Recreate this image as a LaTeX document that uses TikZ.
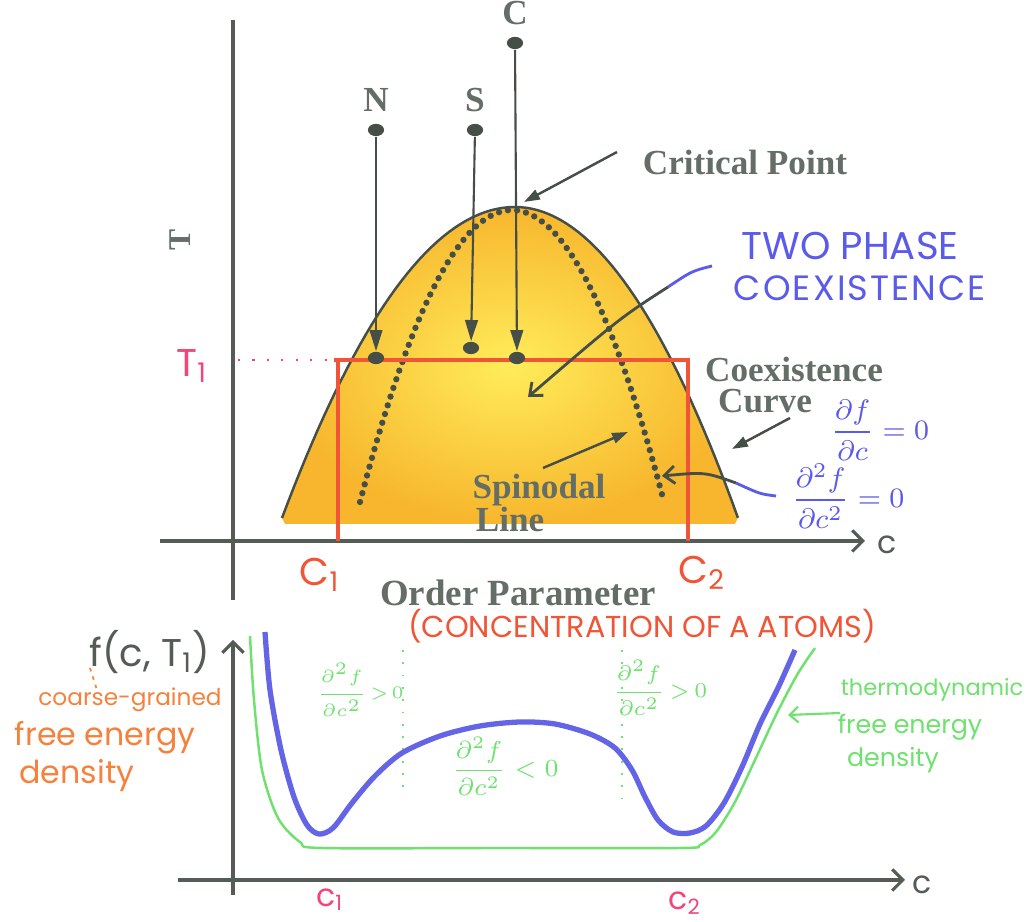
\documentclass[tikz,border=0pt]{standalone}
\usepackage{amsmath}
\usepackage{fontspec}
\setmainfont{Liberation Serif}
\newfontfamily\handfont{Poppins}
\usetikzlibrary{arrows.meta,positioning,shapes.geometric}
\definecolor{axisGray}{RGB}{85,92,86}
\definecolor{labelGray}{RGB}{100,110,102}
\definecolor{dotGray}{RGB}{70,78,72}
\definecolor{redLine}{RGB}{240,85,55}
\definecolor{pinkHand}{RGB}{240,70,120}
\definecolor{blueHand}{RGB}{90,90,235}
\definecolor{blueCurve}{RGB}{100,100,230}
\definecolor{greenHand}{RGB}{110,225,110}
\definecolor{orangeHand}{RGB}{245,130,60}
\definecolor{domeYellow}{RGB}{255,236,90}
\definecolor{domeOrange}{RGB}{247,182,45}
\newcommand\setfs[1]{\fontsize{#1}{#1}\selectfont}
\tikzset{
  axis/.style={draw=axisGray, line width=0.9pt},
  axisarrow/.style={axis, -{Straight Barb[length=3pt,width=6pt]}},
  printlbl/.style={text=labelGray, font=\setfs{10}\bfseries, inner sep=0pt},
  statedot/.style={ellipse, fill=dotGray, inner sep=0pt, minimum width=4.6pt, minimum height=3.5pt},
  quench/.style={draw=dotGray, line width=0.6pt, -{Triangle[length=6pt,width=3.6pt]}},
  pointer/.style={draw=dotGray, line width=0.7pt, -{Triangle[length=4.5pt,width=3pt]}},
  barbpointer/.style={draw=dotGray, line width=0.8pt, -{Straight Barb[length=3pt,width=5pt]}},
  spinodal/.style={draw=dotGray, line width=1.8pt, line cap=round, dash pattern=on 0pt off 2.6pt},
  tieline/.style={draw=redLine, line width=1.2pt},
  hand/.style={font=\handfont, inner sep=0pt}
}

\begin{document}
\begin{tikzpicture}[x=0.01cm,y=-0.01cm]
  \useasboundingbox (0,0) rectangle (1026,922);
  % two phase dome
  \shade[inner color=domeYellow, outer color=domeOrange]
    plot[domain=-1:0,samples=40] ({515+233*\x},{207+311*\x*\x})
    -- plot[domain=0:1,samples=40] ({515+223*\x},{207+311*\x*\x})
    -- (735,524) -- (285,524) -- cycle;
  \draw[draw=dotGray, line width=0.7pt]
    plot[domain=-1:0,samples=40] ({515+233*\x},{207+311*\x*\x})
    -- plot[domain=0:1,samples=40] ({515+223*\x},{207+311*\x*\x});
  \draw[spinodal] plot[domain=-1:1,samples=40] ({512+152*\x},{210+292*\x*\x});

  % axes of the phase diagram
  \draw[axis] (233,600) -- (233,20);
  \draw[axisarrow] (160,541) -- (865,541);
  \node[hand, text=axisGray, font=\handfont\setfs{9}] (cTop) at (887,545) {c};
  \node[printlbl, font=\setfs{9}\bfseries, rotate=90] (tAxis) at (180,240) {T};

  % T1 quench line
  \draw[draw=pinkHand, line width=0.8pt, dash pattern=on 0.6pt off 3.5pt] (238,360) -- (333,360);
  \node[hand, text=pinkHand, font=\handfont\setfs{11}] (tOne) at (192,366) {T\textsubscript{1}};
  \draw[tieline] (334,360) -- (690,360);
  \draw[tieline] (338,360) -- (338,541);
  \draw[tieline] (688,360) -- (688,541);
  \node[hand, text=redLine, font=\handfont\setfs{11}] (cOne) at (320,575) {C\textsubscript{1}};
  \node[hand, text=redLine, font=\handfont\setfs{11}] (cTwo) at (702,573) {C\textsubscript{2}};

  % quenches
  \node[statedot] (nTop) at (376,130) {};
  \node[statedot] (nEnd) at (376,358) {};
  \node[statedot] (sTop) at (475,130) {};
  \node[statedot] (sEnd) at (471,348) {};
  \node[statedot] (cTopDot) at (515,43) {};
  \node[statedot] (cEnd) at (517,358) {};
  \node[printlbl, above=3pt of nTop] (nLbl) {N};
  \node[printlbl, above=3pt of sTop] (sLbl) {S};
  \node[printlbl, above=3pt of cTopDot] (cLbl) {C};
  \draw[quench] (nTop) -- (nEnd);
  \draw[quench] (sTop) -- (sEnd);
  \draw[quench] (cTopDot) -- (cEnd);

  % labels with pointers
  \node[printlbl] (crit) at (745,162) {Critical Point};
  \coordinate (critPt) at (524,202);
  \draw[pointer] (617,152) coordinate (critTail) -- (critPt);
  \node[printlbl] (coexLbl) at (794,369) {Coexistence};
  \node[printlbl] (curveLbl) at (765,401) {Curve};
  \coordinate (coexTail) at (790,418);
  \coordinate (coexPt) at (732,449);
  \draw[pointer] (coexTail) -- (coexPt);
  \node[printlbl] (spinLbl) at (539,490) {Spinodal};
  \node[printlbl] (lineLbl) at (510,519) {Line};
  \coordinate (spinTail) at (543,468);
  \coordinate (spinPt) at (628,432);
  \draw[pointer] (spinTail) -- (spinPt);

  \node[hand, text=blueHand, font=\handfont\setfs{11}] (twoLbl) at (850,246) {TWO PHASE};
  \node[hand, text=blueHand, font=\handfont\setfs{10}\addfontfeature{LetterSpace=6}] (coexHand) at (860,288) {COEXISTENCE};
  \coordinate (twoTail) at (712,266);
  \coordinate (twoMid) at (668,287);
  \coordinate (twoTip) at (528,397);
  \draw[draw=blueHand, line width=0.8pt] (twoTail) .. controls (692,271) .. (twoMid);
  \draw[barbpointer] (twoMid) .. controls (620,318) .. (twoTip);

  \node[hand, text=blueHand, font=\setfs{8}] (dfLbl) at (880,430) {$\dfrac{\partial f}{\partial c}=0$};
  \node[hand, text=blueHand, font=\setfs{8}] (ddfLbl) at (848,496) {$\dfrac{\partial^2 f}{\partial c^2}=0$};
  \coordinate (ddfTail) at (776,496);
  \coordinate (ddfMid) at (736,483);
  \coordinate (ddfTip) at (662,476);
  \draw[draw=blueHand, line width=0.8pt] (ddfTail) .. controls (760,494) .. (ddfMid);
  \draw[barbpointer] (ddfMid) .. controls (705,472) .. (ddfTip);

  \node[printlbl, font=\setfs{10.5}\bfseries] (orderLbl) at (518,593) {Order Parameter};
  \node[hand, text=redLine, font=\handfont\setfs{8.6}] (concLbl) at (642,626) {(CONCENTRATION OF A ATOMS)};

  % free energy plot
  \draw[axisarrow] (233,895) -- (233,640);
  \draw[axisarrow] (178,880) -- (905,880);
  \node[hand, text=axisGray, font=\handfont\setfs{9}] (cBottom) at (922,885) {c};
  \node[hand, text=axisGray, font=\handfont\setfs{11}] (fLbl) at (150,652) {f(c, T\textsubscript{1})};
  \node[hand, text=orangeHand, font=\handfont\setfs{6.6}] (coarseLbl) at (130,700) {coarse-grained};
  \node[hand, text=orangeHand, font=\handfont\setfs{9}] (freeLbl) at (105,738) {free energy};
  \node[hand, text=orangeHand, font=\handfont\setfs{9}] (densLbl) at (77,776) {density};
  \draw[draw=orangeHand, line width=0.5pt, dash pattern=on 1pt off 1.5pt] (90,668) -- (97,690);

  \draw[draw=greenHand, line width=0.4pt, dash pattern=on 0.5pt off 3pt] (403,650) -- (403,790);
  \draw[draw=greenHand, line width=0.4pt, dash pattern=on 0.5pt off 3pt] (622,650) -- (622,800);
  \draw[draw=greenHand, line width=0.7pt] plot[smooth] coordinates {
    (250,636) (254,700) (262,770) (278,818) (300,842) (322,848) (500,848)
    (680,848) (700,845) (716,832) (735,802) (755,760) (776,715) (797,675) (815,648)};
  \draw[draw=blueCurve, line width=1.5pt] plot[smooth] coordinates {
    (265,632) (270,690) (281,750) (294,797) (307,825) (319,834) (333,828)
    (352,803) (375,776) (402,753) (440,736) (480,726) (520,722) (555,724)
    (590,734) (615,748) (632,770) (645,797) (658,820) (673,832) (690,833)
    (706,826) (724,803) (742,767) (760,724) (778,688) (795,650)};

  \node[hand, text=greenHand, font=\setfs{5}] (convexOne) at (360,690) {$\dfrac{\partial^2 f}{\partial c^2}\!>\!0$};
  \node[hand, text=greenHand, font=\setfs{6}] (convexTwo) at (660,688) {$\dfrac{\partial^2 f}{\partial c^2}\,{>}\,0$};
  \node[hand, text=greenHand, font=\setfs{7}] (concave) at (505,766) {$\dfrac{\partial^2 f}{\partial c^2}\;{<}\;0$};

  \node[hand, text=greenHand, font=\handfont\setfs{6.4}] (thermoLbl) at (932,690) {thermodynamic};
  \node[hand, text=greenHand, font=\handfont\setfs{7.2}] (tfreeLbl) at (910,727) {free energy};
  \node[hand, text=greenHand, font=\handfont\setfs{7.2}] (tdensLbl) at (893,760) {density};
  \coordinate (thermoTip) at (788,715);
  \draw[draw=greenHand, line width=0.6pt, -{Straight Barb[length=2.5pt,width=4.5pt]}] (840,713) coordinate (thermoTail) -- (thermoTip);

  \node[hand, text=pinkHand, font=\handfont\setfs{9}] (cOneB) at (330,900) {c\textsubscript{1}};
  \node[hand, text=pinkHand, font=\handfont\setfs{9}] (cTwoB) at (685,903) {c\textsubscript{2}};
\end{tikzpicture}
\end{document}
